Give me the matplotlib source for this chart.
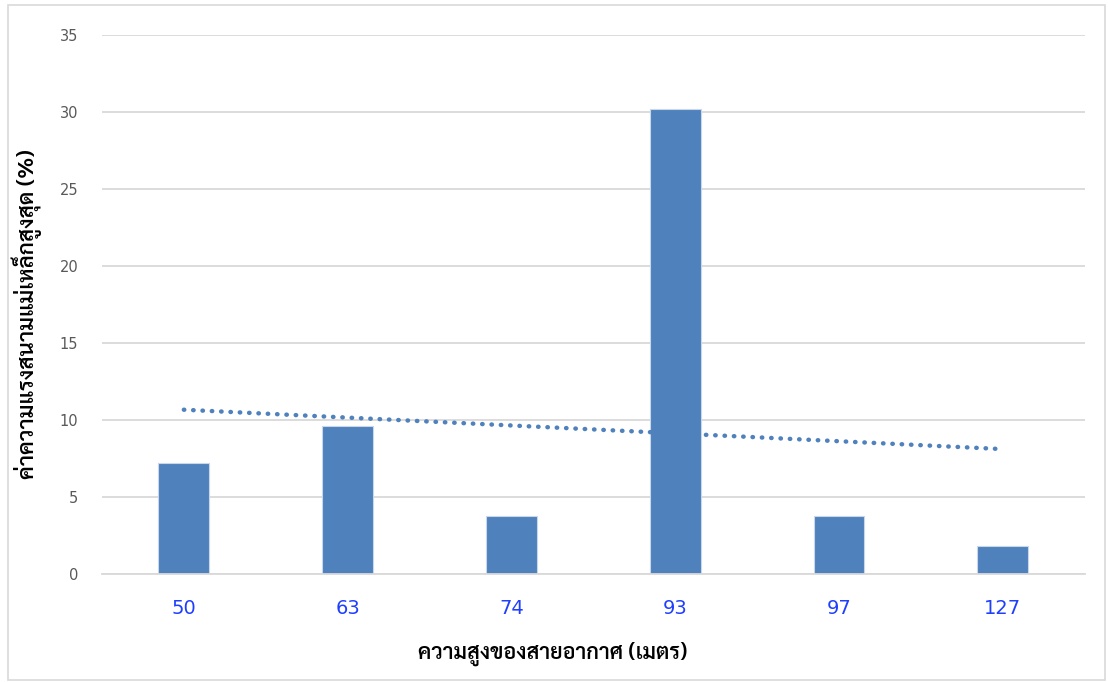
import numpy as np
import matplotlib
matplotlib.use("Agg")
import matplotlib.pyplot as plt
from matplotlib import font_manager
from matplotlib.patches import Rectangle

# Antenna heights (m) and peak magnetic field values (%)
heights = ["50", "63", "74", "93", "97", "127"]
peak_field = [7.2, 9.6, 3.8, 30.2, 3.75, 1.85]
y_ticks = [0, 5, 10, 15, 20, 25, 30, 35]

x_label = "ความสูงของสายอากาศ (เมตร)"
y_label = "ค่าความแรงสนามแม่เหล็กสูงสุด (%)"

# Thai-capable family for the axis titles
names = {f.name for f in font_manager.fontManager.ttflist}
preferred = ["Sarabun", "IBM Plex Sans Thai Looped", "Noto Sans Thai Looped",
             "IBM Plex Sans Thai", "Noto Sans Thai"]
thai = [n for n in preferred if n in names][:1]
plt.rcParams["font.family"] = thai + ["DejaVu Sans"]

bar_color = "#4f81bd"
grid_color = "#d9d9d9"

fig = plt.figure(figsize=(11.08, 6.82), dpi=100)
fig.patches.append(Rectangle((0.007, 0.003), 0.99, 0.99, transform=fig.transFigure,
                             fill=False, edgecolor="#d9d9d9", linewidth=1.2))
ax = fig.add_axes([0.092, 0.158, 0.887, 0.7907])

x = np.arange(len(heights))
ax.bar(x, peak_field, width=0.31, color=bar_color, edgecolor="#c9d7ea",
       linewidth=0.8, zorder=2)

# linear trendline across the categories
coef = np.polyfit(x + 1, peak_field, 1)
trend = np.polyval(coef, x + 1)
ax.plot(x, trend, color=bar_color, linestyle=(0, (0.1, 2.0)), linewidth=3.2,
        dash_capstyle="round", zorder=3)

ax.set_xlim(-0.5, len(heights) - 0.5)
ax.set_ylim(0, 35)
ax.set_yticks(y_ticks)
ax.set_yticklabels([str(t) for t in y_ticks], fontsize=10.5, color="#595959",
                   family=["DejaVu Sans"])
ax.set_xticks(x)
ax.set_xticklabels(heights, fontsize=14, color="#1f3fff", family=["DejaVu Sans"])
ax.yaxis.grid(True, color=grid_color, linewidth=1.3, zorder=0)
ax.set_axisbelow(True)
for s in ["top", "right", "left"]:
    ax.spines[s].set_visible(False)
ax.spines["bottom"].set_color(grid_color)
ax.spines["bottom"].set_linewidth(1.3)
ax.tick_params(axis="both", length=0)
ax.tick_params(axis="y", pad=17)
ax.tick_params(axis="x", pad=18)

ax.set_xlabel(x_label, fontsize=15.5, fontweight="semibold")
ax.set_ylabel(y_label, fontsize=16, fontweight="semibold")
ax.xaxis.set_label_coords(0.459, -0.125)
ax.yaxis.set_label_coords(-0.061, 0.483)

fig.savefig("out.png", dpi=100)
